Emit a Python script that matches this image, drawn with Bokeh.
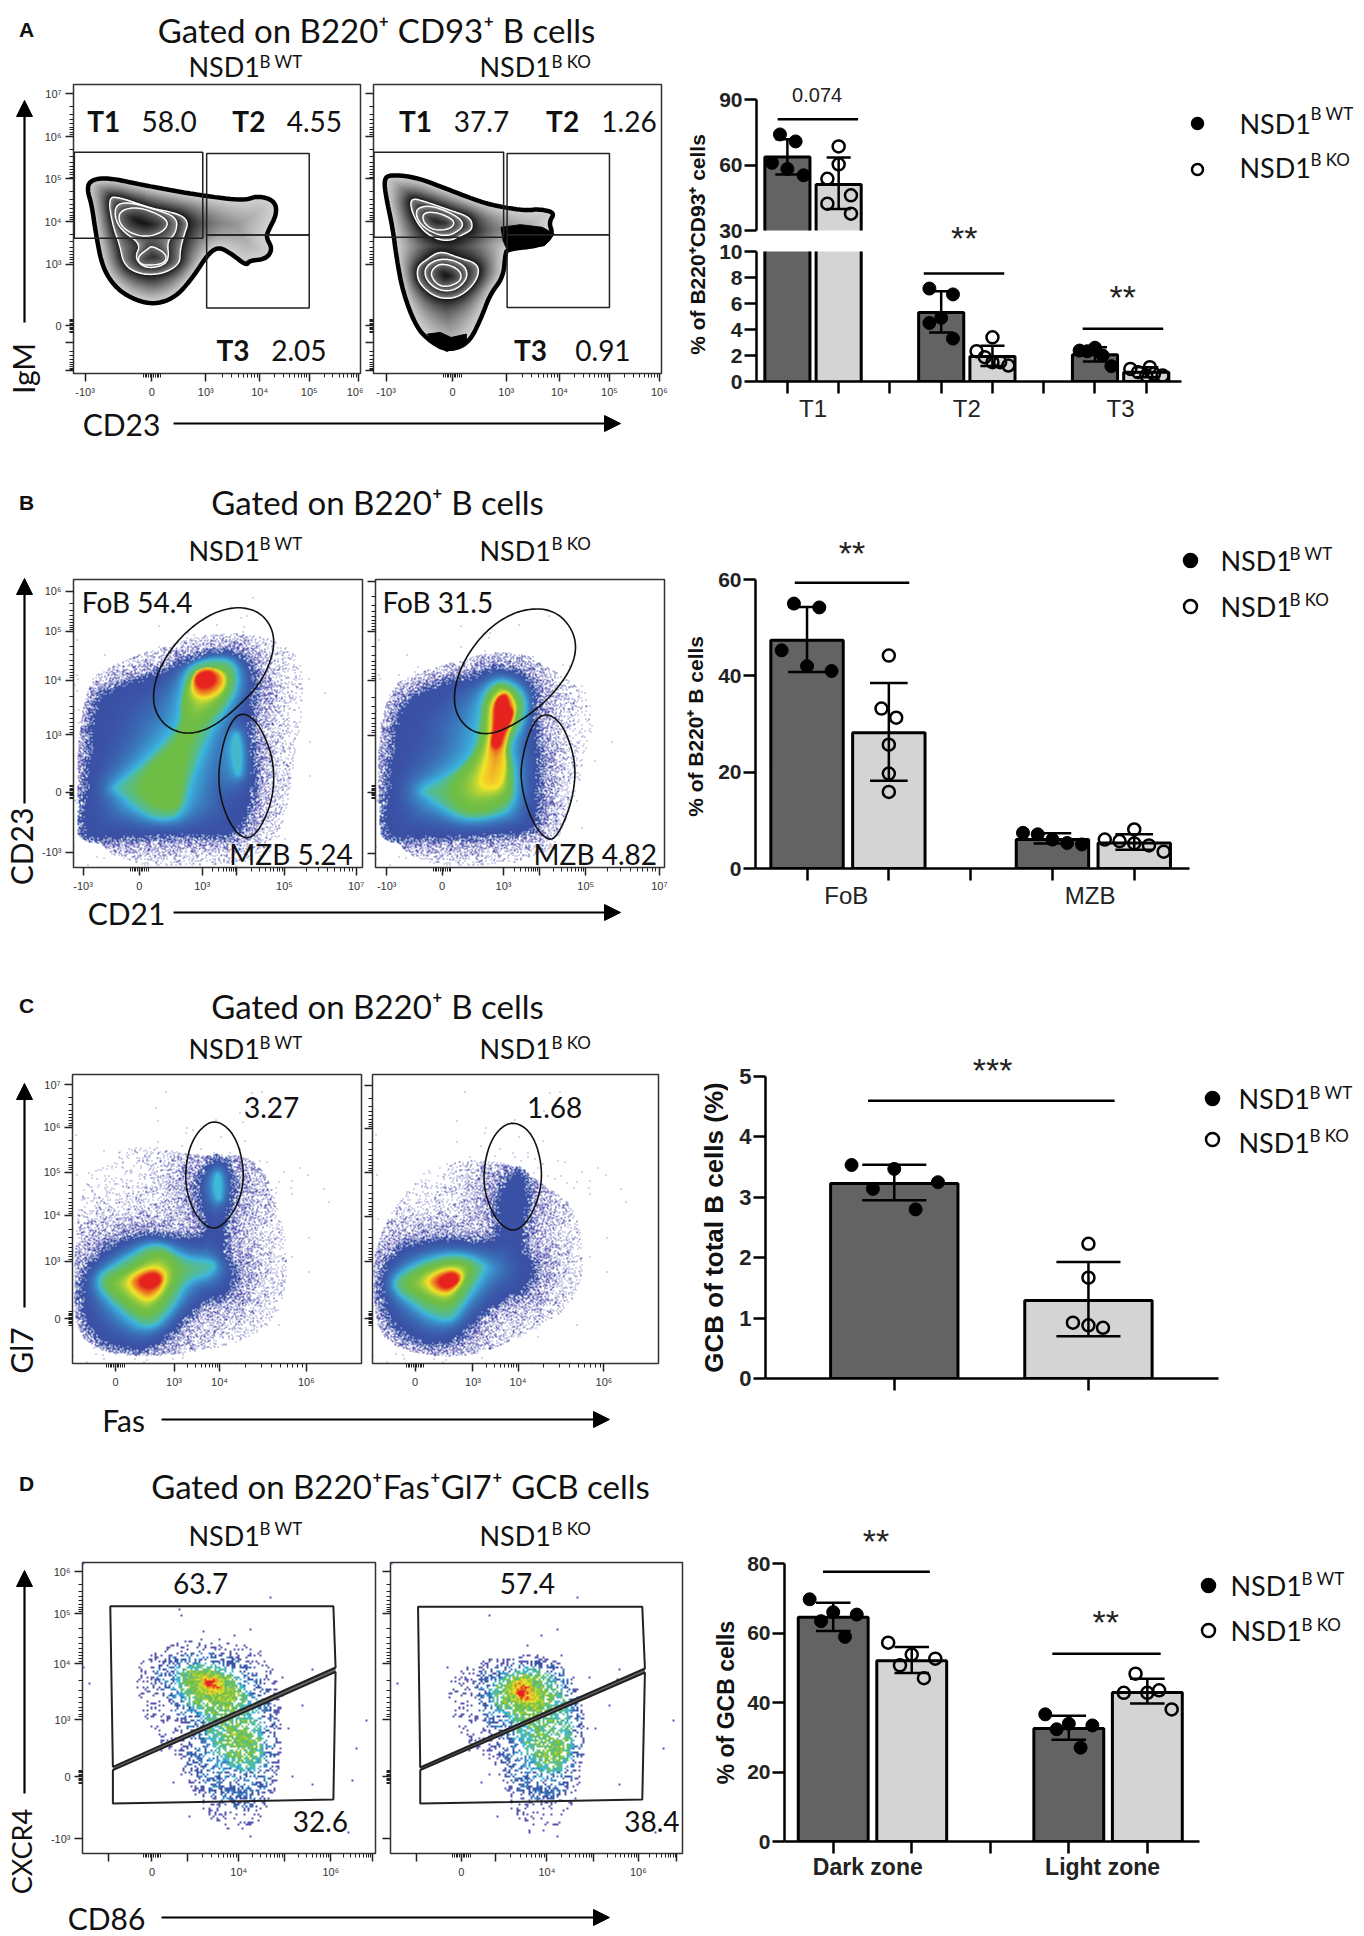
import math
import numpy as np
from bokeh.core.properties import value
from bokeh.embed import file_html
from bokeh.layouts import column, row
from bokeh.models import FixedTicker, Label, Arrow, NormalHead, Range1d, LinearAxis
from bokeh.plotting import figure
from bokeh.resources import INLINE

RIGHT = 1364
SANS = "Liberation Sans"
HUM = "Lato"
WT_BAR = "#636363"
KO_BAR = "#d4d4d4"

# ---------- bar chart values ----------
A_groups = ["T1", "T2", "T3"]
A_wt_mean = [63.7, 5.3, 2.05]
A_wt_hi = [71.8, 6.95, 2.64]
A_wt_lo = [55.6, 3.77, 1.54]
A_ko_mean = [51.1, 1.92, 0.72]
A_ko_hi = [63.4, 2.75, 1.1]
A_ko_lo = [39.8, 1.2, 0.33]
A_wt_pts = [[74, 70.8, 61, 58.2, 55.3], [7.15, 6.7, 4.9, 4.5, 3.3], [2.38, 2.33, 2.6, 2.0, 1.18]]
A_wt_off = [[-.145, .16, -.30, 0, .315], [-.23, .23, 0, -.23, .23], [-.3, -.15, 0, .15, .32]]
A_ko_pts = [[68.5, 60.3, 53.7, 46.1, 42.3, 37.7], [3.4, 2.33, 1.87, 1.49, 1.49, 1.23], [.97, .72, 1.1, .46, .59, .46]]
A_ko_off = [[0, 0, -.22, .24, -.22, .24], [0, -.31, -.15, 0, .15, .31], [-.31, -.16, .07, 0, .15, .32]]

B_groups = ["FoB", "MZB"]
B_wt_mean = [47.4, 6.0]
B_wt_hi = [54.3, 7.3]
B_wt_lo = [40.8, 5.2]
B_ko_mean = [28.2, 5.3]
B_ko_hi = [38.5, 7.1]
B_ko_lo = [18.2, 3.9]
B_wt_pts = [[55, 54.2, 45.3, 42, 41], [7.4, 7.1, 6, 5.3, 5]]
B_wt_off = [[-.16, .15, -.31, 0, .3], [-.36, -.18, 0, .18, .36]]
B_ko_pts = [[44.2, 33.2, 31.3, 25.7, 19.7, 15.9], [6, 5.7, 8.1, 5.2, 4.8, 3.5]]
B_ko_off = [[0, -.09, .09, 0, 0, 0], [-.36, -.18, 0, 0, .18, .36]]

C_groups = [""]
C_wt_mean = [3.23]
C_wt_hi = [3.54]
C_wt_lo = [2.95]
C_ko_mean = [1.29]
C_ko_hi = [1.93]
C_ko_lo = [0.70]
C_wt_pts = [[3.535, 3.47, 3.14, 3.25, 2.8]]
C_wt_off = [[-.22, 0, -.11, .225, .11]]
C_ko_pts = [[2.23, 1.67, .925, .88, .84]]
C_ko_off = [[0, 0, -.08, 0, .075]]

D_groups = ["Dark zone", "Light zone"]
D_wt_mean = [64.5, 32.5]
D_wt_hi = [68.7, 36.2]
D_wt_lo = [60.6, 29.3]
D_ko_mean = [52.0, 42.9]
D_ko_hi = [56.0, 46.8]
D_ko_lo = [48.5, 39.7]
D_wt_pts = [[69.7, 66, 65.3, 63.4, 58.9], [36.6, 33.9, 33.4, 32.3, 27]]
D_wt_off = [[-.3, 0, .3, -.155, .15], [-.3, 0, .3, -.155, .15]]
D_ko_pts = [[57.2, 53.8, 52.6, 50.7, 47], [48.3, 43.5, 42.8, 42.8, 38]]
D_ko_off = [[-.3, 0, .3, -.15, .155], [-.15, .15, 0, -.3, .31]]

# ---------- flow cytometry shapes (in panel units) ----------
A1_levels = [
    [[(200,540),(240,530),(330,555),(460,585),(560,600),(590,585),(630,600),(635,640),(615,690),(610,710),(625,745),(610,775),(570,780),(565,795),(530,760),(500,738),(475,760),(440,830),(400,890),(350,912),(300,895),(260,860),(230,800),(215,700),(205,610),(195,570)]],
    [[(243,590),(270,590),(340,622),(410,640),(430,665),(420,700),(410,750),(410,790),(370,820),(320,822),(280,795),(270,730),(255,680)]],
    [[(262,610),(295,605),(350,625),(405,650),(400,700),(380,720),(385,780),(360,800),(325,800),(305,770),(320,730),(275,690),(258,650)]],
    [[(270,630),(310,618),(360,640),(385,665),(370,695),(330,710),(290,695),(268,665)],
     [(310,770),(335,745),(345,735),(380,760),(375,790),(320,795)]],
]
A2_levels = [
    [[(885,535),(900,522),(960,530),(1030,565),(1110,605),(1160,620),(1215,630),(1240,625),(1280,635),(1265,665),(1275,700),(1250,735),(1170,745),(1165,760),(1160,830),(1130,880),(1110,950),(1080,1030),(1030,1050),(990,1020),(960,980),(930,880),(915,780),(905,680),(890,590)]],
    [[(945,590),(985,605),(1040,630),(1085,650),(1090,685),(1070,700),(1030,725),(980,700),(950,640)],
     [(1015,750),(1055,770),(1105,790),(1100,840),(1060,890),(1010,895),(965,850),(960,800),(985,775)]],
    [[(960,620),(1000,615),(1060,650),(1070,680),(1030,710),(985,690),(960,655)],
     [(1020,770),(1070,790),(1080,830),(1050,870),(1010,870),(980,835),(980,795)]],
    [[(975,635),(1010,635),(1050,660),(1040,685),(1000,690),(975,665)],
     [(1015,785),(1060,805),(1065,840),(1030,860),(1005,850),(990,815)]],
]
A2_black = [[(1155,680),(1200,672),(1250,680),(1278,700),(1255,735),(1170,750),(1160,720)],
            [(985,1000),(1015,995),(1040,1010),(1075,1000),(1075,1030),(1030,1052),(1000,1030)]]

B1_levels = [
    [[(200,700),(250,640),(340,610),(420,560),(520,520),(580,560),(605,640),(590,720),(590,800),(600,900),(590,1000),(570,1090),(520,1120),(400,1115),(300,1120),(180,1125),(175,1050),(190,900)]],
    [[(430,590),(490,565),(540,575),(550,640),(530,700),(490,770),(470,830),(440,930),(420,1040),(370,1055),(320,1030),(270,970),(260,950),(320,890),(380,810),(410,760),(415,680)],
     [(545,780),(558,850),(550,930),(535,880),(533,820)]],
    [[(445,610),(500,590),(530,610),(525,660),(500,710),(470,750),(430,815),(415,950),(410,1010),(385,1020),(350,1000),(320,960),(345,890),(395,840),(425,770),(420,720),(425,660)]],
    [[(445,600),(490,590),(520,620),(510,665),(470,690),(440,670)]],
    [[(448,620),(480,600),(498,625),(485,650),(455,655)]],
]
B2_levels = [
    [[(900,720),(950,660),(1030,620),(1090,610),(1130,580),(1200,590),(1240,640),(1250,700),(1240,760),(1255,830),(1255,950),(1250,1050),(1240,1100),(1100,1120),(970,1120),(880,1125),(870,1050),(885,900)]],
    [[(1110,670),(1150,625),(1195,650),(1215,700),(1205,760),(1175,830),(1190,900),(1185,1020),(1120,1050),(1060,1050),(1000,1000),(960,960),(1030,920),(1090,850),(1100,760)]],
    [[(1120,690),(1150,640),(1185,670),(1200,720),(1165,820),(1175,900),(1175,990),(1110,1030),(1060,1020),(1035,950),(1080,880),(1110,820),(1115,750)]],
    [[(1130,700),(1160,660),(1180,680),(1190,730),(1160,830),(1165,900),(1150,960),(1100,950),(1120,870),(1130,790)]],
    [[(1140,690),(1165,670),(1172,710),(1185,730),(1160,790),(1150,835),(1130,830),(1140,770)]],
]
B1_sparse = [(180,640),(300,560),(520,470),(690,530),(700,700),(680,850),(650,1100),(600,1190),(175,1190)]
B2_sparse = [(870,660),(1000,590),(1180,530),(1300,620),(1380,700),(1350,850),(1310,1050),(1250,1190),(870,1190)]
B1_gates = [[(550,407),(600,425),(630,480),(630,550),(600,640),(540,720),(480,780),(420,795),(370,760),(348,690),(365,590),(420,490),(490,425)],
            [(565,727),(600,770),(630,870),(630,980),(600,1080),(565,1117),(525,1060),(500,950),(510,830),(535,745)]]
B2_gates = [[(1250,410),(1300,440),(1330,510),(1320,590),(1270,680),(1205,750),(1130,798),(1075,780),(1042,710),(1055,600),(1110,490),(1180,425)],
            [(1265,730),(1300,770),(1328,880),(1320,990),(1290,1090),(1265,1120),(1225,1060),(1196,930),(1210,820),(1235,745)]]

C1_levels = [
    [[(172,920),(230,820),(330,770),(420,790),(465,785),(445,700),(440,620),(490,540),(540,570),(552,660),(530,770),(530,850),(560,900),(540,980),(470,1010),(420,1080),(370,1140),(300,1160),(210,1120),(175,1030)]],
    [[(210,930),(280,870),(360,810),(430,870),(495,870),(490,910),(430,930),(400,1010),(345,1085),(280,1030)],
     [(500,600),(510,640),(505,700),(490,650)]],
    [[(235,935),(300,895),(365,835),(415,890),(385,980),(340,1045),(290,1000)]],
    [[(290,925),(350,885),(385,910),(370,965),(340,995),(305,965)]],
    [[(320,925),(355,905),(372,930),(352,955),(325,950)]],
]
C2_levels = [
    [[(858,900),(900,820),(1000,790),(1090,800),(1135,795),(1122,680),(1175,575),(1225,610),(1228,720),(1210,830),(1250,880),(1230,960),(1150,1010),(1100,1060),(1060,1120),(990,1145),(900,1100),(858,1000)]],
    [[(885,940),(950,880),(1045,845),(1115,880),(1110,910),(1060,1010),(1030,1060),(960,1020)]],
    [[(915,940),(975,890),(1050,870),(1085,890),(1060,960),(1030,1010),(980,990)]],
    [[(975,925),(1030,890),(1065,910),(1050,950),(1025,975),(990,960)]],
    [[(1005,925),(1040,905),(1055,930),(1030,955),(1010,948)]],
]
C1_sparse = [(190,570),(330,520),(460,560),(590,550),(650,730),(665,930),(620,1090),(420,1160),(180,1150),(165,900)]
C2_sparse = [(860,800),(960,590),(1140,560),(1250,640),(1340,730),(1340,990),(1200,1100),(1060,1170),(870,1130),(850,950)]
C1_gates = [[(495,445),(540,490),(562,590),(555,680),(525,750),(490,782),(450,740),(425,650),(430,550),(455,480)]]
C2_gates = [[(1180,450),(1225,490),(1247,590),(1240,680),(1210,760),(1175,787),(1135,745),(1108,650),(1115,550),(1140,480)]]

D1_levels = [
    [[(350,650),(430,600),(530,610),(610,690),(630,800),(640,880),(620,1010),(590,1090),(500,1060),(430,960),(430,860),(430,800),(380,770)]],
    [[(410,650),(500,640),(560,700),(590,800),(610,880),(600,960),(530,960),(470,850),(480,800),(410,740)]],
    [[(430,670),(500,655),(550,720),(530,770),(480,760),(430,715)],[(545,830),(585,860),(570,900),(540,880)]],
    [[(465,685),(500,685),(515,725),(480,725)]],
    [[(475,695),(490,695),(490,712),(478,712)]],
]
D2_levels = [
    [[(1080,690),(1150,640),(1280,630),(1320,700),(1340,800),(1340,900),(1310,1000),(1290,1050),(1200,1050),(1160,950),(1130,860),(1110,780)]],
    [[(1130,700),(1220,640),(1290,700),(1310,800),(1320,880),(1300,960),(1240,980),(1200,880),(1170,790),(1130,760)]],
    [[(1160,700),(1220,670),(1260,740),(1240,790),(1190,770),(1160,740)],[(1265,870),(1295,885),(1285,930),(1262,915)]],
    [[(1175,710),(1210,690),(1235,745),(1200,760)]],
    [[(1190,722),(1203,718),(1207,738),(1195,742)]],
]
D1_sparse = [(310,610),(490,555),(620,590),(650,780),(650,900),(620,1100),(540,1150),(470,1100),(420,950),(370,880),(320,770)]
D2_sparse = [(1020,680),(1150,610),(1300,620),(1340,750),(1350,900),(1310,1100),(1260,1160),(1190,1160),(1150,950),(1070,880),(1040,770)]
D1_gates = [[(254,468),(768,468),(773,652),(260,950)],[(260,960),(773,665),(768,1048),(260,1060)]]
D2_gates = [[(963,470),(1476,470),(1482,655),(968,952)],[(968,960),(1482,667),(1476,1048),(968,1060)]]
D1_band = [(260,950),(773,652),(773,665),(260,960)]
D2_band = [(968,952),(1482,655),(1482,667),(968,960)]

PSEUDO = np.array([(58,80,165),(60,185,225),(110,190,70),(245,230,40),(230,35,30),(230,35,30)], float)
BAND_GAMMA = [3.0, .6, 2.0, 1.0, 1.0]


def smooth(poly, n=2):
    pts = np.array(poly, float)
    for _ in range(n):
        nxt = np.roll(pts, -1, axis=0)
        pts = np.stack([0.75*pts+0.25*nxt, 0.25*pts+0.75*nxt], axis=1).reshape(-1, 2)
    return pts


def field(X, Y, polys):
    """Inside mask and distance to the nearest edge of a group of polygons."""
    inside = np.zeros(X.shape, bool)
    dist2 = np.full(X.shape, 1e12)
    for poly in polys:
        pts = smooth(poly)
        ins = np.zeros(X.shape, bool)
        for (x0, y0), (x1, y1) in zip(pts, np.roll(pts, -1, axis=0)):
            dx, dy = x1-x0, y1-y0
            tt = np.clip(((X-x0)*dx+(Y-y0)*dy)/max(dx*dx+dy*dy, 1e-9), 0, 1)
            dist2 = np.minimum(dist2, (X-x0-tt*dx)**2+(Y-y0-tt*dy)**2)
            if dy != 0:
                ins ^= ((y0 > Y) != (y1 > Y)) & (X < x0+(Y-y0)*dx/dy)
        inside |= ins
    return inside, np.sqrt(dist2)


def grid(xr, yr, w, h, cell=1):
    nx, ny = w//cell, h//cell
    xs = xr[0]+(xr[1]-xr[0])*(np.arange(nx)+.5)/nx
    ys = yr[0]+(yr[1]-yr[0])*(np.arange(ny)+.5)/ny
    X, Y = np.meshgrid(xs, ys)
    I, J = np.meshgrid(np.arange(nx), np.arange(ny))
    u = (np.sin(I*12.9898+J*78.233)*43758.5453) % 1
    v = (np.sin(I*39.346+J*11.135+1.7)*24634.6345) % 1
    return X, Y, u, v


def band_params(X, Y, levels):
    fields = [field(X, Y, lv) for lv in levels]
    lev = -np.ones(X.shape, int)
    t = np.zeros(X.shape)
    for i, (ins, d) in enumerate(fields):
        if i+1 < len(fields):
            tt = d/(d+fields[i+1][1]+1e-6)
        else:
            tt = d/(d.max() if ins.sum() == 0 else d[ins].max()+1e-6)
        lev[ins] = i
        t[ins] = tt[ins]
    return lev, t, fields


def to_rgba(rgb, alpha):
    out = np.zeros(alpha.shape+(4,), np.uint8)
    out[..., :3] = np.clip(rgb, 0, 255).astype(np.uint8)
    out[..., 3] = alpha
    return out.view(np.uint32).reshape(alpha.shape)


def zebra_image(xr, yr, w, h, levels):
    X, Y, _, _ = grid(xr, yr, w, h)
    lev, t, _ = band_params(X, Y, levels)
    light = np.array([212, 150, 150, 120.])
    dark = np.array([18, 40, 60, 20.])
    g = np.full(X.shape, 255.)
    for i in range(4):
        m = lev == i
        g[m] = light[i]+(dark[i]-light[i])*t[m]**(1.25 if i == 0 else .8)
    return to_rgba(np.dstack([g, g, g]), (lev >= 0)*255)


def pseudo_image(xr, yr, w, h, levels, sparse, cell=1, fill=1.0, sparse_cov=.6, reach=45., stray=.012, edge=22.):
    X, Y, u, v = grid(xr, yr, w, h, cell)
    lev, t, fields = band_params(X, Y, levels)
    in_sp, _ = field(X, Y, [sparse])
    tg = t.copy()
    for i, g in enumerate(BAND_GAMMA):
        m = lev == i
        tg[m] = t[m]**g
    pos = np.where(lev >= 0, lev+tg, 0.)
    if fill < 1:
        pos = np.clip(pos+(v-.5)*1.3, 0, 5)
    lo = np.clip(pos.astype(int), 0, 4)
    frac = (pos-lo)[..., None]
    rgb = PSEUDO[lo]*(1-frac)+PSEUDO[lo+1]*frac
    d0 = fields[0][1]
    cov = np.where(in_sp, sparse_cov, stray)*np.exp(-d0/reach)
    if fill < 1:
        inner = fill+(1-fill)*np.minimum(lev/2., 1)
    else:
        inner = np.where(lev == 0, np.minimum(1, sparse_cov+(1-sparse_cov)*d0/edge), 1.)
    cov = np.where(lev >= 0, inner, cov)
    alpha = (u < cov)*255
    rgb = np.where((lev < 0)[..., None], np.array([85, 85, 175.]), rgb)
    return to_rgba(rgb, alpha)


def minor_ticks(major, zero):
    out = []
    ms = sorted(major)
    for a, b in zip(ms, ms[1:]):
        if a <= zero <= b:
            continue
        out += [a+(b-a)*math.log10(k) for k in range(2, 10)]
    out += [zero+k*4 for k in range(-5, 6)]
    return out


def style_axis(ax, major, labels, zero, show_labels=True):
    ax.ticker = FixedTicker(ticks=major, minor_ticks=minor_ticks(major, zero))
    ax.major_label_overrides = {m: (l if show_labels else "") for m, l in zip(major, labels)}
    ax.major_tick_out = 8
    ax.major_tick_in = 0
    ax.minor_tick_out = 4
    ax.minor_tick_in = 0
    ax.major_tick_line_width = 1.5
    ax.major_tick_line_color = "#222222"
    ax.minor_tick_line_color = "#222222"
    ax.axis_line_color = None
    ax.major_label_text_font = SANS
    ax.major_label_text_font_size = "11px"
    ax.major_label_text_color = "#333333"
    ax.major_label_standoff = 4 if show_labels else 0


def flow_fig(x0, x1, y0, y1, L, R, T, B, xr, yr, xm, xl, ym, yl, xzero, yzero, ylabels):
    p = figure(width=x1-x0, height=y1-y0, x_range=Range1d(*xr), y_range=Range1d(yr[1], yr[0]),
               min_border_left=L-x0, min_border_right=x1-R, min_border_top=T-y0, min_border_bottom=y1-B,
               toolbar_location=None, output_backend="svg", tools="")
    p.grid.visible = False
    p.outline_line_color = "#333333"
    p.outline_line_width = 1.5
    style_axis(p.xaxis[0], xm, xl, xzero)
    style_axis(p.yaxis[0], ym, yl, yzero, show_labels=ylabels)
    return p


def put_image(p, img, xr, yr):
    p.image_rgba(image=[img], x=xr[0], y=yr[0], dw=xr[1]-xr[0], dh=yr[1]-yr[0])


def outline(p, polys, color="black", width=1.5, n=3):
    xs, ys = [], []
    for poly in polys:
        pts = smooth(poly, n)
        xs.append(list(pts[:, 0]))
        ys.append(list(pts[:, 1]))
    p.patches(xs, ys, fill_color=None, line_color=color, line_width=width)


def rects(p, polys, width=1.5, color="#222222"):
    p.patches([[q[0] for q in r] for r in polys], [[q[1] for q in r] for r in polys],
              fill_color=None, line_color=color, line_width=width)


def numbers(p, xs, ys, labels, size="28px", style="normal", align="center"):
    p.text(x=xs, y=ys, text=labels, text_font=value(HUM), text_font_size=size, text_font_style=style,
           text_align=align, text_baseline="middle", text_color="#111111")


def canvas(x0, x1, y0, y1):
    p = figure(width=x1-x0, height=y1-y0, x_range=Range1d(x0, x1), y_range=Range1d(y1, y0),
               x_axis_type=None, y_axis_type=None, min_border=0, min_border_left=0, min_border_right=0,
               min_border_top=0, min_border_bottom=0, toolbar_location=None, output_backend="svg", tools="")
    p.grid.visible = False
    p.outline_line_color = None
    return p


def say(p, x, y, txt, size, font=HUM, style="normal", align="center", angle=0.):
    p.text(x=[x], y=[y], text=[txt], text_font=value(font), text_font_size=size, text_font_style=style,
           text_align=align, text_baseline="middle", angle=angle, text_color="#111111")


def arrow(p, xa, ya, xb, yb):
    p.add_layout(Arrow(end=NormalHead(size=16, fill_color="black", line_color="black"),
                       x_start=xa, y_start=ya, x_end=xb, y_end=yb, line_width=2.2, line_color="black"))


def header(y0, y1, letter, ly, title, tx, ty, nsd_y, sup_y):
    p = canvas(0, 684, y0, y1)
    say(p, 26, ly, letter, "21px", font=SANS, style="bold")
    say(p, tx, ty, title, "33px")
    say(p, 188, nsd_y, "NSD1", "27px", align="left")
    say(p, 259, sup_y, "B WT", "17px", align="left")
    say(p, 479, nsd_y, "NSD1", "27px", align="left")
    say(p, 551, sup_y, "B KO", "17px", align="left")
    return p


def footer(y0, y1, label, lx, ly, ay, ax0, ax1):
    p = canvas(0, 684, y0, y1)
    say(p, lx, ly, label, "30px")
    arrow(p, ax0, ay, ax1, ay)
    return p


def side(x1, y0, y1, label, cy, ay0, ay1, lx=24, size="30px"):
    p = canvas(0, x1, y0, y1)
    say(p, lx, cy, label, size, angle=math.pi/2)
    arrow(p, 24, ay0, 24, ay1)
    # wrapped so that its frame is not aligned with the neighbouring plots
    return column(p, spacing=0)


def ylabel_canvas(x1, y0, y1, label, lx, cy, size):
    p = canvas(684, x1, y0, y1)
    say(p, lx, cy, label, size, font=SANS, style="bold", angle=math.pi/2)
    return column(p, spacing=0)


def draw_errors_points(p, xw, xk, wh, wl, kh, kl, wp, wo, kp, ko, cap):
    for xs, hi, lo in ((xw, wh, wl), (xk, kh, kl)):
        p.segment(x0=xs, x1=xs, y0=lo, y1=hi, line_color="black", line_width=2.5)
        p.segment(x0=[x-cap for x in xs], x1=[x+cap for x in xs], y0=hi, y1=hi, line_color="black", line_width=2.5)
        p.segment(x0=[x-cap for x in xs], x1=[x+cap for x in xs], y0=lo, y1=lo, line_color="black", line_width=2.5)
    for gx, vals, offs in zip(xw, wp, wo):
        p.scatter(x=[gx+o for o in offs], y=vals, size=13, marker="circle", fill_color="black", line_color="black")
    for gx, vals, offs in zip(xk, kp, ko):
        p.scatter(x=[gx+o for o in offs], y=vals, size=12, marker="circle", fill_color=None, line_color="black", line_width=2.5)


def draw_bars(p, group_pos, groups_w, groups_k, cap, bar_w):
    wm, wh, wl, wp, wo = groups_w
    km, kh, kl, kp, ko = groups_k
    xw = group_pos
    xk = [g+1 for g in group_pos]
    p.vbar(x=xw, top=wm, bottom=0, width=bar_w, fill_color=WT_BAR, line_color="black", line_width=3)
    p.vbar(x=xk, top=km, bottom=0, width=bar_w, fill_color=KO_BAR, line_color="black", line_width=3)
    draw_errors_points(p, xw, xk, wh, wl, kh, kl, wp, wo, kp, ko, cap)


def bar_fig(x0, y0, y1, L, T, B, tick0, k, yr, yticks, tick_font="21px", ext_bottom=0):
    per_px = (yr[1]-yr[0])/(B-T)
    p = figure(width=RIGHT-x0, height=y1-y0,
               x_range=Range1d((L-tick0)/k, (RIGHT-tick0)/k),
               y_range=Range1d(yr[0]-ext_bottom*per_px, yr[1]+(T-y0)*per_px),
               min_border_left=L-x0, min_border_right=0, min_border_top=0, min_border_bottom=y1-B-ext_bottom,
               toolbar_location=None, output_backend="svg", tools="", x_axis_type=None)
    p.grid.visible = False
    p.outline_line_color = None
    ax = p.yaxis[0]
    ax.ticker = FixedTicker(ticks=yticks)
    ax.bounds = (yr[0], yr[1])
    ax.axis_line_width = 2.5
    ax.axis_line_color = "black"
    ax.major_tick_out = 12
    ax.major_tick_in = 0
    ax.minor_tick_out = 0
    ax.minor_tick_in = 0
    ax.major_tick_line_width = 2.5
    ax.major_label_standoff = 2
    ax.major_label_text_font = SANS
    ax.major_label_text_font_style = "bold"
    ax.major_label_text_font_size = tick_font
    ax.major_label_text_color = "#222222"
    return p


def x_axes(p, ticks, base_left, base_right, centers, names, font_size, style="normal", standoff=6):
    a = LinearAxis(ticker=FixedTicker(ticks=ticks), bounds=(base_left, base_right))
    a.major_label_overrides = {t: "" for t in ticks}
    a.major_label_text_font_size = "1px"
    a.axis_line_width = 2.5
    a.axis_line_color = "black"
    a.major_tick_out = 12
    a.major_tick_in = 0
    a.minor_tick_out = 0
    a.minor_tick_in = 0
    a.major_tick_line_width = 2.5
    a.major_label_standoff = 0
    p.add_layout(a, "below")
    if any(names):
        b = LinearAxis(ticker=FixedTicker(ticks=centers))
        b.major_label_overrides = dict(zip(centers, names))
        b.axis_line_color = None
        b.major_tick_line_color = None
        b.minor_tick_line_color = None
        b.major_tick_out = 0
        b.major_tick_in = 0
        b.major_label_standoff = standoff
        b.major_label_text_font = SANS
        b.major_label_text_font_size = font_size
        b.major_label_text_font_style = style
        b.major_label_text_color = "#222222"
        p.add_layout(b, "below")


def bracket(p, x0, x1, y):
    p.segment(x0=[x0], x1=[x1], y0=[y], y1=[y], line_color="black", line_width=2.5)


def stars(p, x, y, txt, size="34px"):
    p.add_layout(Label(x=x, y=y, text=txt, text_font=SANS, text_font_size=size, text_align="center",
                       text_baseline="middle", text_color="#222222"))


def legend(p, tick0, k, y_of, mx, tx, sx, rows, msize):
    """rows: (marker page y, text page y, sup page y, label, filled)"""
    for my, ty, sy, lab, filled in rows:
        p.scatter(x=[(mx-tick0)/k], y=[y_of(my)], size=msize, marker="circle",
                  fill_color="black" if filled else None, line_color="black", line_width=2.5)
        p.text(x=[(tx-tick0)/k], y=[y_of(ty)], text=["NSD1"], text_font=value(HUM), text_font_size="27px",
               text_align="left", text_baseline="middle", text_color="#111111")
        p.text(x=[(sx-tick0)/k], y=[y_of(sy)], text=[lab], text_font=value(HUM), text_font_size="17px",
               text_align="left", text_baseline="middle", text_color="#111111")


# ======================= Row A =======================
A1x, A1y = (163, 829), (252, 1118)
A2x, A2y = (861, 1525), (252, 1118)
fa1 = flow_fig(41, 363, 83, 404, 71, 360, 84, 373, A1x, A1y,
               [190,345,470,595,710,825], ["-10³","0","10³","10⁴","10⁵","10⁶"],
               [280,408,535,663,790,975,1025,1110], ["10⁷","10⁶","10⁵","10⁴","10³","0","",""], 345, 975, True)
put_image(fa1, zebra_image(A1x, A1y, 289, 289, A1_levels), A1x, A1y)
outline(fa1, A1_levels[0], "black", 4.5)
for lv in A1_levels[1:]:
    outline(fa1, lv, "white", 1.5)
rects(fa1, [[(165,455),(463,455),(463,713),(165,713)], [(472,459),(710,459),(710,703),(472,703)], [(472,703),(710,703),(710,922),(472,922)]])
numbers(fa1, [233,570,533], [362,362,1048], ["T1","T2","T3"], style="bold")
numbers(fa1, [385,722,686], [362,362,1048], ["58.0","4.55","2.05"])

fa2 = flow_fig(363, 684, 83, 404, 373, 661, 84, 373, A2x, A2y,
               [890,1043,1167,1290,1405,1520], ["-10³","0","10³","10⁴","10⁵","10⁶"],
               [280,408,535,663,790,975,1025,1110], [""]*8, 1043, 975, False)
put_image(fa2, zebra_image(A2x, A2y, 288, 289, A2_levels), A2x, A2y)
outline(fa2, A2_levels[0], "black", 4.5)
fa2.patches([[q[0] for q in s] for s in A2_black], [[q[1] for q in s] for s in A2_black],
            fill_color="black", line_color="black")
for lv in A2_levels[1:]:
    outline(fa2, lv, "white", 1.5)
rects(fa2, [[(862,455),(1161,455),(1161,710),(862,710)], [(1169,459),(1405,459),(1405,702),(1169,702)], [(1169,702),(1405,702),(1405,920),(1169,920)]])
numbers(fa2, [958,1297,1223], [362,362,1048], ["T1","T2","T3"], style="bold")
numbers(fa2, [1110,1450,1390], [362,362,1048], ["37.7","1.26","0.91"])

hdr_a = header(0, 83, "A", 29, "Gated on B220⁺ CD93⁺ B cells", 376, 29, 66, 61)
ftr_a = footer(404, 470, "CD23", 121, 423, 423, 173, 620)
sd_a = side(41, 83, 404, "IgM", 368, 322, 100, lx=22)
left_a = column(hdr_a, row(sd_a, fa1, fa2, spacing=0), ftr_a, spacing=0)

A_tick0, A_k = 680+245/2.292, 117.5/2.292
# the two parts of the broken axis overlap by 26 px: the lower figure is transparent there
A_up = bar_fig(708, 0, 262, 756, 99, 230, A_tick0, A_k, (30, 90), [30, 60, 90], ext_bottom=32)
A_lo = bar_fig(708, 236, 470, 756, 251, 381, A_tick0, A_k, (0, 10), [0, 2, 4, 6, 8, 10])
A_lo.margin = (-26, 0, 0, 0)
A_lo.background_fill_color = None
A_lo.border_fill_color = None

# upper part of the broken axis: T1 only, bars fill down to the break without a lower edge
T1_half = .44
A_up.vbar(x=[0], top=[A_wt_mean[0]], bottom=30, width=.88, fill_color=WT_BAR, line_color=None)
A_up.vbar(x=[1], top=[A_ko_mean[0]], bottom=30, width=.88, fill_color=KO_BAR, line_color=None)
for gx, top in ((0, A_wt_mean[0]), (1, A_ko_mean[0])):
    A_up.line(x=[gx-T1_half, gx-T1_half, gx+T1_half, gx+T1_half], y=[30, top, top, 30], line_color="black", line_width=3)
draw_errors_points(A_up, [0], [1], A_wt_hi[:1], A_wt_lo[:1], A_ko_hi[:1], A_ko_lo[:1],
                   A_wt_pts[:1], A_wt_off[:1], A_ko_pts[:1], A_ko_off[:1], .235)
bracket(A_up, -.19, 1.38, 81)
stars(A_up, .58, 91.9, "0.074", "20px")
stars(A_up, 3.45, 26.5, "**")

# lower part: T1 bars stop at the break (no upper edge); T2 and T3 complete with their marks
A_lo.vbar(x=[0], top=10, bottom=0, width=.88, fill_color=WT_BAR, line_color=None)
A_lo.vbar(x=[1], top=10, bottom=0, width=.88, fill_color=KO_BAR, line_color=None)
for gx in (0, 1):
    A_lo.line(x=[gx-T1_half, gx-T1_half], y=[0, 10], line_color="black", line_width=3)
    A_lo.line(x=[gx+T1_half, gx+T1_half], y=[0, 10], line_color="black", line_width=3)
A_lo.vbar(x=[3, 6], top=A_wt_mean[1:], bottom=0, width=.88, fill_color=WT_BAR, line_color="black", line_width=3)
A_lo.vbar(x=[4, 7], top=A_ko_mean[1:], bottom=0, width=.88, fill_color=KO_BAR, line_color="black", line_width=3)
draw_errors_points(A_lo, [3, 6], [4, 7], A_wt_hi[1:], A_wt_lo[1:], A_ko_hi[1:], A_ko_lo[1:],
                   A_wt_pts[1:], A_wt_off[1:], A_ko_pts[1:], A_ko_off[1:], .235)
bracket(A_lo, 2.66, 4.23, 8.3)
bracket(A_lo, 5.76, 7.33, 4.05)
stars(A_lo, 6.54, 6.5, "**")
x_axes(A_lo, [0, 1, 2, 3, 4, 5, 6, 7], -.6, 7.68, [.5, 3.5, 6.5], A_groups, "24px", standoff=1)
legend(A_up, A_tick0, A_k, lambda Y: 30+(230-Y)*60/131., 1197, 1239, 1310,
       [(123, 123, 113, "B WT", True), (169, 167, 159, "B KO", False)], 11)
lab_a = ylabel_canvas(708, 0, 470, "% of B220⁺CD93⁺  cells", 697, 241, "21px")
right_a = row(lab_a, column(A_up, A_lo, spacing=0), spacing=0)

# ======================= Row B =======================
B1x, B1y = (168, 835), (326, 1196)
B2x, B2y = (864, 1532), (326, 1196)
fb1 = flow_fig(38, 367, 571, 894, 73, 362, 579, 869, B1x, B1y,
               [190,320,465,545,655,820], ["-10³","0","10³","","10⁵","10⁷"],
               [362,483,630,795,968,1150], ["10⁶","10⁵","10⁴","10³","0","-10³"], 320, 968, True)
put_image(fb1, pseudo_image(B1x, B1y, 289, 290, B1_levels, B1_sparse), B1x, B1y)
outline(fb1, B1_gates, "#111111", 1.6)
numbers(fb1, [315, 670], [393, 1155], ["FoB 54.4", "MZB 5.24"])

fb2 = flow_fig(367, 684, 571, 894, 375, 664, 579, 869, B2x, B2y,
               [890,1018,1160,1243,1350,1520], ["-10³","0","10³","","10⁵","10⁷"],
               [333,483,632,797,968,1155], [""]*6, 1018, 968, False)
put_image(fb2, pseudo_image(B2x, B2y, 289, 290, B2_levels, B2_sparse), B2x, B2y)
outline(fb2, B2_gates, "#111111", 1.6)
numbers(fb2, [1008, 1372], [393, 1155], ["FoB 31.5", "MZB 4.82"])

hdr_b = header(470, 571, "B", 502, "Gated on B220⁺ B cells", 377, 501, 550, 543)
ftr_b = footer(894, 970, "CD21", 126, 912, 912, 173, 620)
sd_b = side(38, 571, 894, "CD23", 846, 803, 578, lx=20)
left_b = column(hdr_b, row(sd_b, fb1, fb2, spacing=0), ftr_b, spacing=0)

B_tick0, B_k = 680+290/2.292, 187.5/2.292
B_bar = bar_fig(708, 470, 970, 755, 579, 868, B_tick0, B_k, (0, 60), [0, 20, 40, 60])
draw_bars(B_bar, [0, 3], (B_wt_mean, B_wt_hi, B_wt_lo, B_wt_pts, B_wt_off),
          (B_ko_mean, B_ko_hi, B_ko_lo, B_ko_pts, B_ko_off), .23, .885)
bracket(B_bar, -.15, 1.25, 59.3)
stars(B_bar, .55, 65.5, "**")
x_axes(B_bar, [0, 1, 2, 3, 4], -.63, 4.67, [.48, 3.46], B_groups, "24px", standoff=1)
legend(B_bar, B_tick0, B_k, lambda Y: (868-Y)*60/289., 1190, 1220, 1289,
       [(560, 560, 553, "B WT", True), (606, 606, 599, "B KO", False)], 13)
lab_b = ylabel_canvas(708, 470, 970, "% of B220⁺  B cells", 695, 723, "21px")
right_b = row(lab_b, B_bar, spacing=0)

# ======================= Row C =======================
C1x, C1y = (166, 832), (312, 1180)
C2x, C2y = (851, 1517), (312, 1180)
fc1 = flow_fig(38, 364, 1066, 1395, 72, 361, 1074, 1363, C1x, C1y,
               [265,400,505,705], ["0","10³","10⁴","10⁶"],
               [343,470,605,735,873,1045], ["10⁷","10⁶","10⁵","10⁴","10³","0"], 265, 1045, True)
put_image(fc1, pseudo_image(C1x, C1y, 289, 289, C1_levels, C1_sparse, sparse_cov=.55, reach=70.), C1x, C1y)
outline(fc1, C1_gates, "#111111", 1.6)
numbers(fc1, [625], [410], ["3.27"])

fc2 = flow_fig(364, 684, 1066, 1395, 369, 658, 1074, 1363, C2x, C2y,
               [950,1085,1190,1390], ["0","10³","10⁴","10⁶"],
               [345,475,607,737,875,1045], [""]*6, 950, 1045, False)
put_image(fc2, pseudo_image(C2x, C2y, 289, 289, C2_levels, C2_sparse, sparse_cov=.55, reach=70.), C2x, C2y)
outline(fc2, C2_gates, "#111111", 1.6)
numbers(fc2, [1275], [410], ["1.68"])

hdr_c = header(970, 1066, "C", 1005, "Gated on B220⁺ B cells", 377, 1005, 1048, 1042)
ftr_c = footer(1395, 1450, "Fas", 123, 1419, 1419, 161, 609)
sd_c = side(38, 1066, 1395, "Gl7", 1350, 1307, 1083, lx=20)
left_c = column(hdr_c, row(sd_c, fc1, fc2, spacing=0), ftr_c, spacing=0)

C_tick0, C_k = 680+490/2.292, 445/2.292
C_bar = bar_fig(728, 970, 1450, 765, 1076, 1378, C_tick0, C_k, (0, 5), [0, 1, 2, 3, 4, 5], "22px")
draw_bars(C_bar, [0], (C_wt_mean, C_wt_hi, C_wt_lo, C_wt_pts, C_wt_off),
          (C_ko_mean, C_ko_hi, C_ko_lo, C_ko_pts, C_ko_off), .165, .656)
bracket(C_bar, -.135, 1.135, 4.6)
stars(C_bar, .506, 5.1, "***")
x_axes(C_bar, [0, 1], -.663, 1.67, [.5], C_groups, "20px")
legend(C_bar, C_tick0, C_k, lambda Y: (1378-Y)*5/302., 1212, 1238, 1309,
       [(1098, 1098, 1092, "B WT", True), (1139, 1142, 1135, "B KO", False)], 13)
lab_c = ylabel_canvas(728, 970, 1450, "GCB of total B cells (%)", 713, 1227, "26px")
right_c = row(lab_c, C_bar, spacing=0)

# ======================= Row D =======================
D1x, D1y = (190, 865), (337, 1210)
D2x, D2y = (900, 1568), (337, 1210)
fd1 = flow_fig(38, 381, 1554, 1899, 82, 375, 1562, 1853, D1x, D1y,
               [250,350,432,550,655,762,858], ["","0","","10⁴","","10⁶",""],
               [365,490,640,808,980,1165], ["10⁶","10⁵","10⁴","10³","0","-10³"], 350, 980, True)
put_image(fd1, pseudo_image(D1x, D1y, 293, 291, D1_levels, D1_sparse, cell=2, fill=.42, sparse_cov=.3, reach=60., stray=.01), D1x, D1y)
fd1.patch([q[0] for q in D1_band], [q[1] for q in D1_band], fill_color="#666666", line_color=None)
rects(fd1, D1_gates, width=2)
numbers(fd1, [462, 738], [400, 1115], ["63.7", "32.6"])

fd2 = flow_fig(381, 684, 1554, 1899, 390, 682, 1562, 1853, D2x, D2y,
               [960,1062,1140,1258,1365,1467,1555], ["","0","","10⁴","","10⁶",""],
               [365,490,640,808,980,1165], [""]*6, 1062, 980, False)
put_image(fd2, pseudo_image(D2x, D2y, 292, 291, D2_levels, D2_sparse, cell=2, fill=.42, sparse_cov=.3, reach=60., stray=.01), D2x, D2y)
fd2.patch([q[0] for q in D2_band], [q[1] for q in D2_band], fill_color="#666666", line_color=None)
rects(fd2, D2_gates, width=2)
numbers(fd2, [1213, 1498], [400, 1115], ["57.4", "38.4"])

hdr_d = header(1450, 1554, "D", 1483, "Gated on B220⁺Fas⁺Gl7⁺ GCB cells", 400, 1485, 1535, 1528)
ftr_d = footer(1899, 1936, "CD86", 106, 1917, 1917, 161, 609)
sd_d = side(38, 1554, 1899, "CXCR4", 1851, 1793, 1570, lx=21, size="27px")
left_d = column(hdr_d, row(sd_d, fd1, fd2, spacing=0), ftr_d, spacing=0)

D_tick0, D_k = 680+350/2.292, 180/2.292
D_bar = bar_fig(738, 1450, 1936, 784, 1563, 1841, D_tick0, D_k, (0, 80), [0, 20, 40, 60, 80])
draw_bars(D_bar, [0, 3], (D_wt_mean, D_wt_hi, D_wt_lo, D_wt_pts, D_wt_off),
          (D_ko_mean, D_ko_hi, D_ko_lo, D_ko_pts, D_ko_off), .22, .89)
bracket(D_bar, -.13, 1.23, 77.6)
bracket(D_bar, 2.79, 4.17, 54)
stars(D_bar, .544, 86.5, "**")
stars(D_bar, 3.47, 63.2, "**")
x_axes(D_bar, [0, 1, 2, 3, 4], -.63, 4.67, [.44, 3.43], D_groups, "23px", style="bold", standoff=0)
legend(D_bar, D_tick0, D_k, lambda Y: (1841-Y)*80/278., 1208, 1230, 1301,
       [(1585, 1585, 1578, "B WT", True), (1630, 1630, 1624, "B KO", False)], 13)
lab_d = ylabel_canvas(738, 1450, 1936, "% of GCB cells", 725, 1702, "23px")
right_d = row(lab_d, D_bar, spacing=0)

page = column(row(left_a, right_a, spacing=0), row(left_b, right_b, spacing=0),
              row(left_c, right_c, spacing=0), row(left_d, right_d, spacing=0), spacing=0)

with open("out.html", "w") as f:
    f.write(file_html(page, INLINE))
